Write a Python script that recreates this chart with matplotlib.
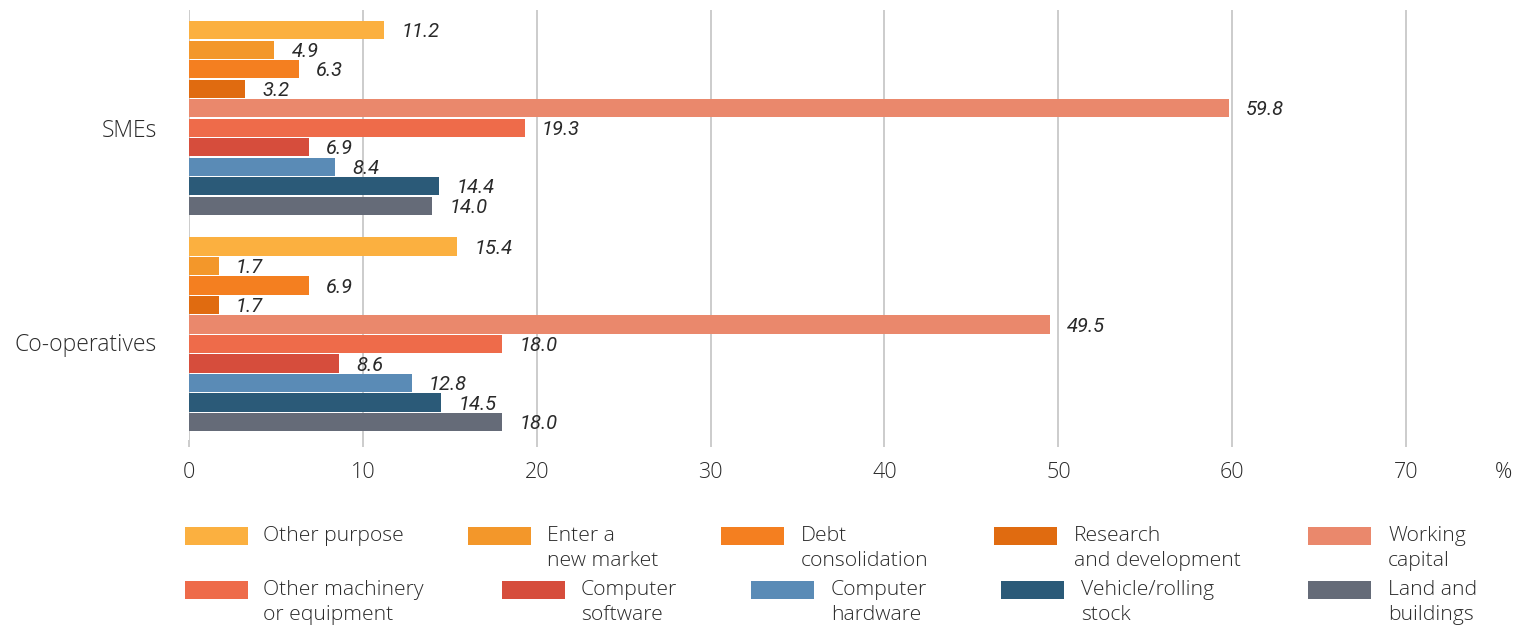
import matplotlib
matplotlib.use("Agg")
import matplotlib.pyplot as plt
from matplotlib.patches import Rectangle

# Purposes of financing (series), in bar order top to bottom
purposes = [
    "Other purpose", "Enter a\nnew market", "Debt\nconsolidation",
    "Research\nand development", "Working\ncapital",
    "Other machinery\nor equipment", "Computer\nsoftware", "Computer\nhardware",
    "Vehicle/rolling\nstock", "Land and\nbuildings",
]
colors = [
    "#FBB040", "#F3972A", "#F47F20", "#E06B10", "#EA886C",
    "#EE6B4A", "#D64D3C", "#5A8BB6", "#2B5A78", "#656B78",
]
groups = ["SMEs", "Co-operatives"]
smes = [11.2, 4.9, 6.3, 3.2, 59.8, 19.3, 6.9, 8.4, 14.4, 14.0]
coops = [15.4, 1.7, 6.9, 1.7, 49.5, 18.0, 8.6, 12.8, 14.5, 18.0]
xticks = [0, 10, 20, 30, 40, 50, 60, 70]

TEXT = "#2a2a2a"
GRID = "#C8C8C8"
TICK_FONT = ["Open Sans", "DejaVu Sans"]
VAL_FONT = ["Roboto", "DejaVu Sans"]

fig = plt.figure(figsize=(15.15, 6.25), dpi=100)
W, H = 1515, 625
ax = fig.add_axes([189 / W, 1 - 440 / H, (1493 - 189) / W, 430 / H])

n = len(purposes)
group_gap = 2.1
offsets = [0, n - 1 + group_gap]
for g, vals in enumerate([smes, coops]):
    ys = [offsets[g] + i for i in range(n)]
    ax.barh(ys, vals, height=0.93, color=colors, zorder=3)
    for y, v in zip(ys, vals):
        ax.text(v + 1.0, y + 0.08, f"{v:.1f}", va="center", ha="left",
                fontsize=14.5, style="italic", color=TEXT,
                family=VAL_FONT, zorder=4)

last = offsets[1] + n - 1
ax.set_ylim(last + 0.92, -1.03)
ax.set_xlim(0, 75)

for x in xticks:
    ax.axvline(x, color=GRID, lw=1.3, zorder=1)

ax.set_xticks(xticks)
ax.set_xticklabels([str(t) for t in xticks], family=TICK_FONT,
                   fontsize=15.5, color=TEXT, weight="light")
ax.tick_params(axis="x", length=5, color=GRID, width=1.3, pad=11)
ax.set_yticks([offsets[0] + 5.0, offsets[1] + 4.9])
ax.set_yticklabels(groups, family=TICK_FONT, fontsize=16.5, color=TEXT,
                   weight="light")
ax.tick_params(axis="y", length=0, pad=23)
for s in ax.spines.values():
    s.set_visible(False)

fig.text(1503 / W, 1 - 472 / H, "%", ha="center", va="center",
         family=TICK_FONT, fontsize=15.5, color=TEXT, weight="light")

# Legend in two rows of five
patch_x = [185, 468, 721, 994, 1308, 185, 502, 751, 1001, 1308]
text_x = [263, 547, 801, 1074, 1388, 263, 581, 831, 1081, 1388]
row_y = [536, 590]
for k, (lab, col) in enumerate(zip(purposes, colors)):
    ry = row_y[k // 5]
    fig.add_artist(Rectangle((patch_x[k] / W, 1 - (ry + 9) / H), 63 / W, 18 / H,
                             transform=fig.transFigure, color=col, lw=0))
    fig.text(text_x[k] / W, 1 - (ry - 10) / H, lab, ha="left", va="top",
             family=TICK_FONT, fontsize=15.2, color=TEXT, linespacing=1.36,
             weight="light")

fig.savefig("out.png", dpi=100, facecolor="white")
